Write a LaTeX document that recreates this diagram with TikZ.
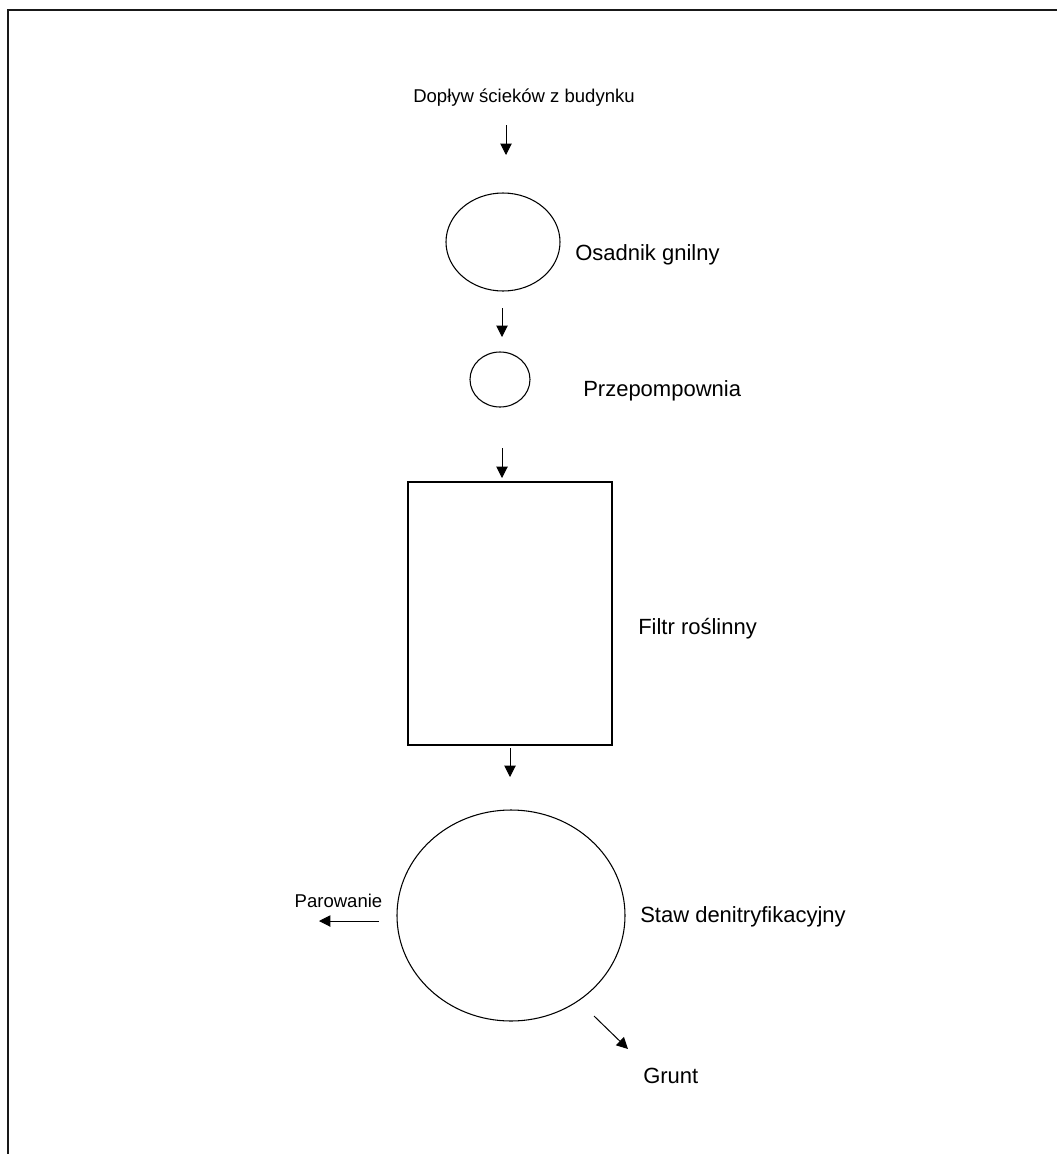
\documentclass[tikz,border=0pt]{standalone}
\usepackage{fontspec}
\setmainfont{Liberation Sans}
\usetikzlibrary{shapes.geometric,arrows.meta}
\begin{document}
\begin{tikzpicture}[x=0.75pt,y=-0.75pt,
  frameline/.style={line width=1.6pt,black!90},
  tank/.style={draw,ellipse,line width=0.8pt,inner sep=0pt},
  bed/.style={draw,rectangle,line width=0.8pt,inner sep=0pt},
  arr/.style={line width=0.75pt,-{Triangle[length=8.5pt,width=8.5pt]}},
  bigl/.style={inner sep=0pt,anchor=base west,font=\fontsize{16.5}{19}\selectfont},
  smalll/.style={inner sep=0pt,anchor=base,font=\fontsize{13.9}{16}\selectfont}]
\useasboundingbox (0,0) rectangle (1057,1154);
\fill[white] (0,0) rectangle (1057,1154);
% frame
\draw[frameline] (1062,10) -- (8,10) -- (8,1159);
% nodes
\node[smalll] (inflow) at (524,102) {Dopływ ścieków z budynku};
\node[tank,minimum width=85.5pt,minimum height=73.5pt] (osad) at (503,242) {};
\node[bigl] (osadl) at (575,260) {Osadnik gnilny};
\node[tank,minimum width=45pt,minimum height=41.25pt] (pump) at (500,379.5) {};
\node[bigl] (pumpl) at (583,396.5) {Przepompownia};
\node[bed,minimum width=153pt,minimum height=197.25pt] (filter) at (510,613.5) {};
\node[bigl] (filterl) at (638,634) {Filtr roślinny};
\node[tank,minimum width=171pt,minimum height=158.25pt] (staw) at (511,915.5) {};
\node[bigl] (stawl) at (640,922) {Staw denitryfikacyjny};
\node[smalll] (evap) at (338.5,907) {Parowanie};
\node[bigl] (grunt) at (643,1083) {Grunt};
% arrow end points
\coordinate (a1s) at (506,125);
\coordinate (a1e) at (506,155);
\coordinate (a2s) at (502,308);
\coordinate (a2e) at (502,337);
\coordinate (a3s) at (502,448);
\coordinate (a3e) at (502,478);
\coordinate (a4s) at (510,748);
\coordinate (a4e) at (510,777);
\coordinate (evs) at (379,921);
\coordinate (eve) at (319,921);
\coordinate (grs) at (594,1016);
\coordinate (gre) at (628,1049);
% connectors
\draw[arr] (a1s) -- (a1e);
\draw[arr] (a2s) -- (a2e);
\draw[arr] (a3s) -- (a3e);
\draw[arr] (a4s) -- (a4e);
\draw[arr] (evs) -- (eve);
\draw[arr] (grs) -- (gre);
\end{tikzpicture}
\end{document}
